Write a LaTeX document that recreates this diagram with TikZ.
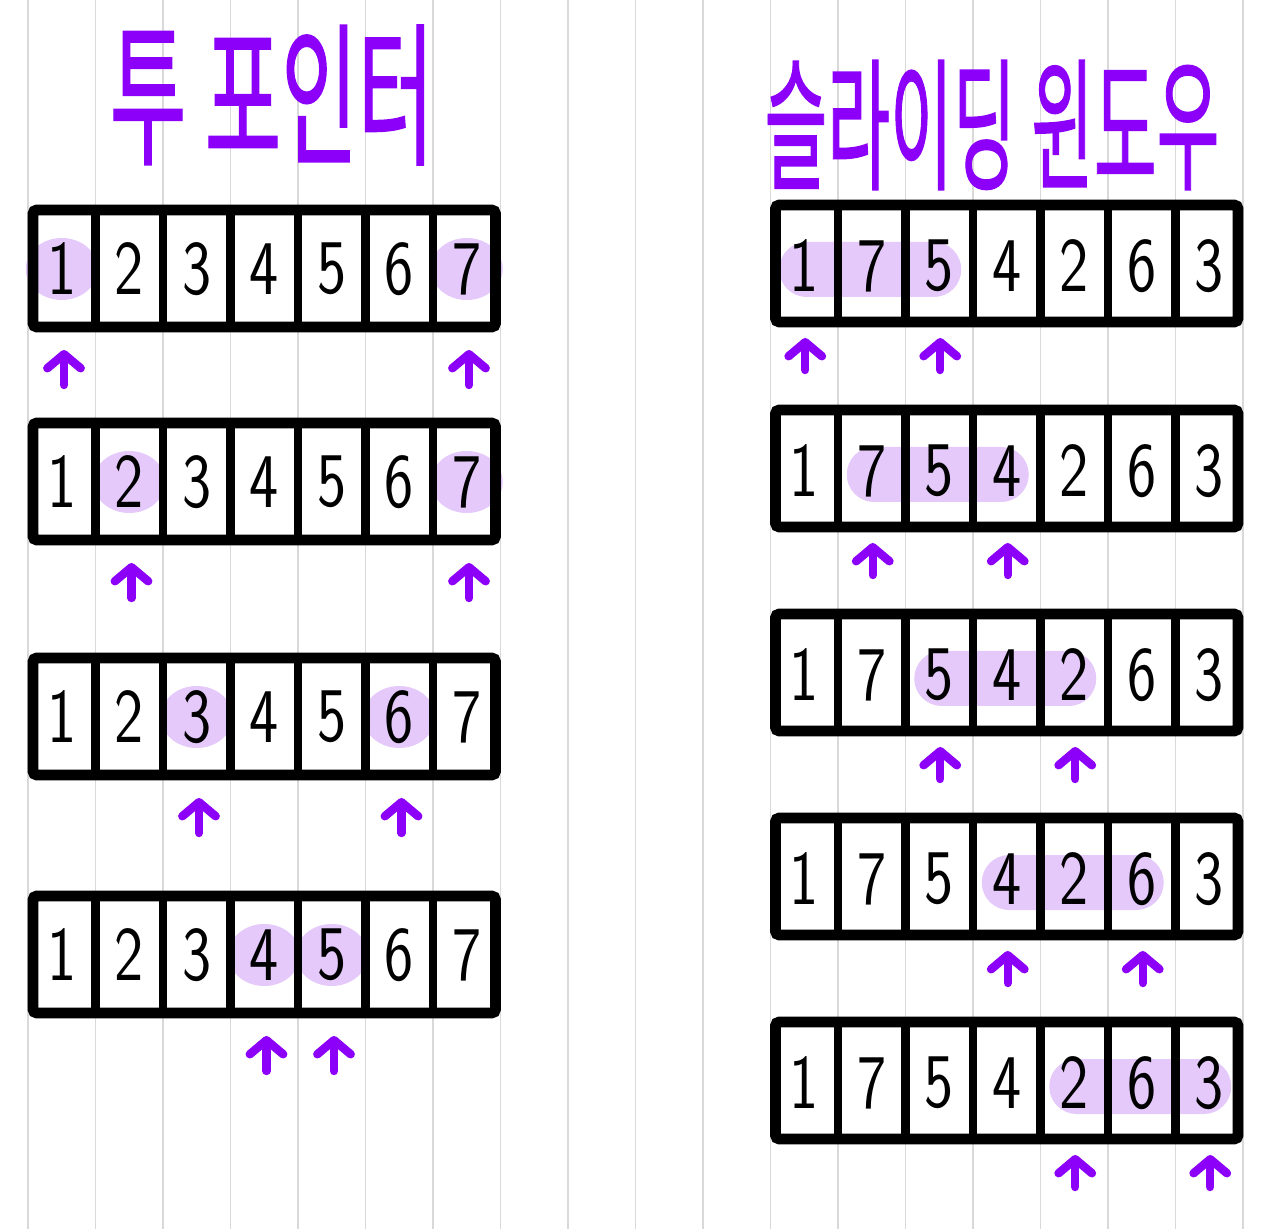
\documentclass[tikz,border=0pt]{standalone}
\usepackage{fontspec}
\usepackage{graphicx}
\newfontfamily\kor[FakeBold=1.2]{Noto Sans CJK KR}
\usetikzlibrary{arrows.meta}
\definecolor{ptr}{HTML}{8C00FA}
\definecolor{hl}{HTML}{E4C9FA}
\definecolor{paperline}{HTML}{D9D9D9}
\begin{document}
\begin{tikzpicture}[x=0.1mm, y=0.1mm,
    ruling/.style={draw=paperline, line width=0.45pt},
    frame/.style={draw=black, line width=3pt, rounded corners=1pt},
    wall/.style={draw=black, line width=2.4pt},
    hlspot/.style={fill=hl},
    digit/.style={font=\sffamily\fontsize{22}{22}\selectfont, inner sep=0pt},
    pointer/.style={draw=ptr, line width=2.4pt, line cap=round, -{Straight Barb[round, length=4pt, width=9.5pt]}},
    title/.style={text=ptr, inner sep=0pt}]
    \fill[white] (0,0) rectangle (1280,-1229);
    \useasboundingbox (0,0) rectangle (1280,-1229);
    \foreach \k in {0,...,18} \draw[ruling] ({28+67.5*\k},0) -- ({28+67.5*\k},-1229);
    \node[title] (twoptr) at (272,-95) {\scalebox{1.05}[1.95]{\kor\fontsize{22.5}{22.5}\selectfont 투 포인터}};
    \node[title] (slidewin) at (992,-125) {\scalebox{1.05}[2.2]{\kor\fontsize{18.5}{18.5}\selectfont 슬라이딩 윈도우}};
    \foreach \r/\t/\a/\b in {1/205/1/7, 2/418/2/7, 3/653/3/6, 4/891/4/5}{
        \fill[hlspot] ({67.5*\a-5.75},{-\t-64}) ellipse (36 and 31);
        \fill[hlspot] ({67.5*\b-5.75},{-\t-64}) ellipse (36 and 31);
        \draw[frame] (33,{-\t-5}) rectangle (495.5,{-\t-122});
        \foreach \x in {1,...,6} \draw[wall] ({28+67.5*\x},{-\t-5}) -- ({28+67.5*\x},{-\t-122});
        \foreach \i in {1,...,7} \node[digit] (tp\r-\i) at ({67.5*\i-5.75},{-\t-64}) {\scalebox{0.8}[1]{\i}};
        \coordinate (tp\r-tailA) at ({67.5*\a-3.5},{-\t-180});
        \coordinate (tp\r-tipA) at ({67.5*\a-3.5},{-\t-145});
        \coordinate (tp\r-tailB) at ({67.5*\b-3.5},{-\t-180});
        \coordinate (tp\r-tipB) at ({67.5*\b-3.5},{-\t-145});
        \draw[pointer] (tp\r-tailA) -- (tp\r-tipA);
        \draw[pointer] (tp\r-tailB) -- (tp\r-tipB);
    }
    \foreach \r/\t/\a/\b in {1/200/1/3, 2/405/2/4, 3/609/3/5, 4/813/4/6, 5/1017/5/7}{
        \fill[hlspot, rounded corners=7.8pt] ({67.5*\a+736.75-25},{-\t-42}) rectangle ({67.5*\b+736.75+22},{-\t-97});
        \draw[frame] (775.5,{-\t-5}) rectangle (1238,{-\t-122});
        \foreach \x in {1,...,6} \draw[wall] ({770.5+67.5*\x},{-\t-5}) -- ({770.5+67.5*\x},{-\t-122});
        \foreach \d [count=\i] in {1,7,5,4,2,6,3} \node[digit] (sw\r-\i) at ({67.5*\i+736.75},{-\t-66}) {\scalebox{0.8}[1]{\d}};
        \coordinate (sw\r-tailA) at ({67.5*\a+737.75},{-\t-170});
        \coordinate (sw\r-tipA) at ({67.5*\a+737.75},{-\t-138});
        \coordinate (sw\r-tailB) at ({67.5*\b+737.75},{-\t-170});
        \coordinate (sw\r-tipB) at ({67.5*\b+737.75},{-\t-138});
        \draw[pointer] (sw\r-tailA) -- (sw\r-tipA);
        \draw[pointer] (sw\r-tailB) -- (sw\r-tipB);
    }
\end{tikzpicture}
\end{document}
